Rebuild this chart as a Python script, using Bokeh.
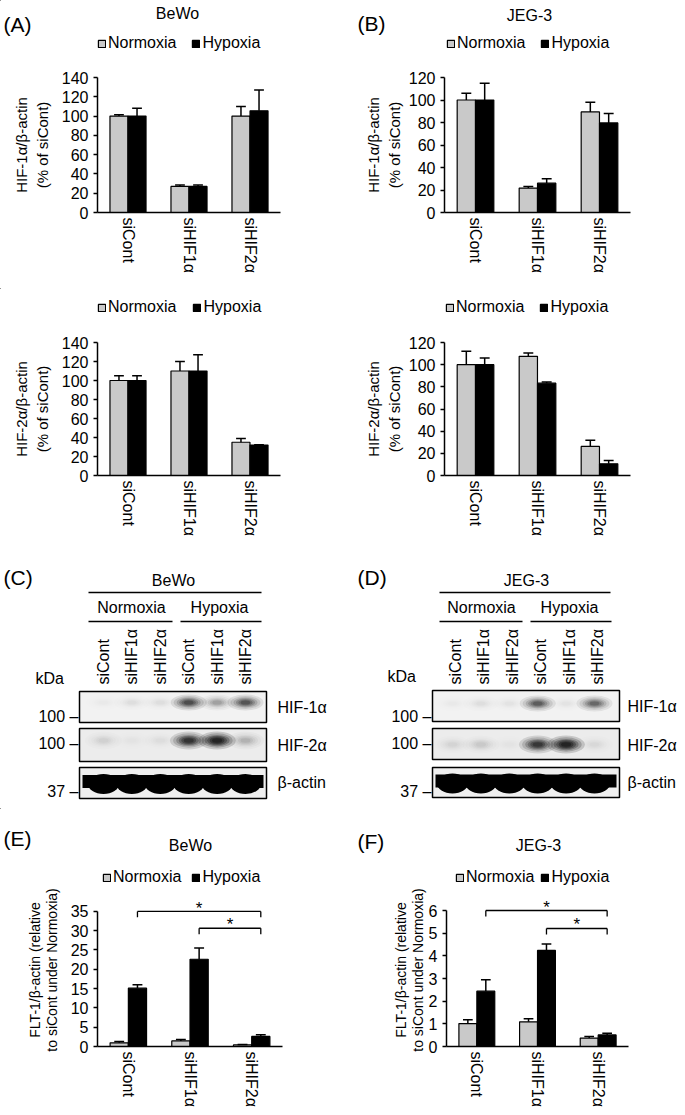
import math
from bokeh.plotting import figure
from bokeh.models import (FactorRange, Range1d, FixedTicker, Legend, LegendItem,
                          ColumnDataSource)
from bokeh.transform import dodge
from bokeh.layouts import column, row
from bokeh.core.properties import value
from bokeh.embed import file_html
from bokeh.resources import INLINE

FONT = "Liberation Sans"
GRAY = "#c9c9c9"

# ---------------- data ----------------
categories = ["siCont", "siHIF1α", "siHIF2α"]
series = ["Normoxia", "Hypoxia"]

# (A) BeWo, HIF-1α/β-actin (% of siCont)
bewo_hif1a_norm = [100, 27, 100]
bewo_hif1a_norm_err = [1.5, 1.5, 10]
bewo_hif1a_hyp = [100, 27, 105.5]
bewo_hif1a_hyp_err = [8, 1.5, 21.5]
# (B) JEG-3, HIF-1α/β-actin
jeg_hif1a_norm = [100, 21.7, 89.4]
jeg_hif1a_norm_err = [6, 1.5, 8.6]
jeg_hif1a_hyp = [100, 26.1, 79.6]
jeg_hif1a_hyp_err = [15, 4, 8.3]
# (A) BeWo, HIF-2α/β-actin
bewo_hif2a_norm = [100, 110, 35]
bewo_hif2a_norm_err = [5, 10, 4]
bewo_hif2a_hyp = [100, 110, 32]
bewo_hif2a_hyp_err = [5, 17, 0.3]
# (B) JEG-3, HIF-2α/β-actin
jeg_hif2a_norm = [100, 107.5, 26.2]
jeg_hif2a_norm_err = [12, 3, 5.5]
jeg_hif2a_hyp = [100, 83.3, 10.5]
jeg_hif2a_hyp_err = [6, 1, 3]
# (E) BeWo, FLT-1/β-actin
bewo_flt1_norm = [0.95, 1.45, 0.4]
bewo_flt1_norm_err = [0.35, 0.35, 0.1]
bewo_flt1_hyp = [15.1, 22.6, 2.6]
bewo_flt1_hyp_err = [0.9, 2.9, 0.45]
# (F) JEG-3, FLT-1/β-actin
jeg_flt1_norm = [1.01, 1.09, 0.37]
jeg_flt1_norm_err = [0.17, 0.13, 0.07]
jeg_flt1_hyp = [2.44, 4.24, 0.51]
jeg_flt1_hyp_err = [0.5, 0.28, 0.08]

yticks_hif_bewo = [0, 20, 40, 60, 80, 100, 120, 140]
yticks_hif_jeg = [0, 20, 40, 60, 80, 100, 120]
yticks_flt1_bewo = [0, 5, 10, 15, 20, 25, 30, 35]
yticks_flt1_jeg = [0, 1, 2, 3, 4, 5, 6]

sig_pairs = [("siCont", "siHIF2α"), ("siHIF1α", "siHIF2α")]
sig_text = "*"

# western blots
blot_lanes = ["siCont", "siHIF1α", "siHIF2α", "siCont", "siHIF1α", "siHIF2α"]
blot_conditions = ["Normoxia", "Hypoxia"]
blot_rows = ["HIF-1α", "HIF-2α", "β-actin"]
blot_markers = ["100 –", "100 –", "37 –"]
bewo_blot_hif1a = [0.02, 0.04, 0.04, 0.6, 0.22, 0.55]
bewo_blot_hif2a = [0.06, 0.02, 0.03, 0.8, 1.0, 0.15]
bewo_blot_actin = [1, 1, 1, 1, 1, 1]
jeg_blot_hif1a = [0.02, 0.04, 0.03, 0.5, 0.03, 0.45]
jeg_blot_hif2a = [0.05, 0.08, 0.02, 0.75, 1.0, 0.04]
jeg_blot_actin = [1, 1, 1, 1, 1, 1]

# ---------------- layout (page pixels) ----------------
COL_X = [0, 343]
COL_W = [343, 342]
PAGE_W = 685

OFF = 0.148
BW = 0.295
CAP = 0.16


def base_fig(width, height, **kw):
    p = figure(width=width, height=height, output_backend="svg",
               toolbar_location=None, title=None, **kw)
    p.outline_line_color = None
    p.background_fill_color = "white"
    p.border_fill_color = "white"
    return p


def txt(p, x, y, t, size="16px", align="center", angle=0.0, baseline="middle"):
    p.text(x=x if isinstance(x, list) else [x], y=y if isinstance(y, list) else [y],
           text=t if isinstance(t, list) else [t], angle=angle,
           text_font=value(FONT), text_font_size=size, text_color="black",
           text_align=align, text_baseline=baseline)


def make_header(top, height, letters, titles, legends):
    p = base_fig(PAGE_W, height, x_range=Range1d(0, PAGE_W),
                 y_range=Range1d(top + height, top), x_axis_type=None,
                 y_axis_type=None, min_border=0)
    for t, x, y in letters:
        txt(p, x, y, t, size="21px", align="left")
    for t, x, y in titles:
        txt(p, x, y, t, size="16px")
    for lx, ly, gap in legends:
        # legend keys: same styles as the bars (their single point lies off-canvas)
        rn = p.vbar(x=[-1000], top=[top], bottom=[top], width=1, fill_color=GRAY,
                    line_color="black", line_width=1.2)
        rh = p.vbar(x=[-1000], top=[top], bottom=[top], width=1, fill_color="black",
                    line_color="black", line_width=1.2)
        leg = Legend(items=[LegendItem(label=series[0], renderers=[rn]),
                            LegendItem(label=series[1], renderers=[rh])],
                     orientation="horizontal",
                     location=(lx, top + height - ly - 10),
                     label_text_font=FONT, label_text_font_size="16px",
                     label_text_color="black", glyph_width=9, glyph_height=9,
                     label_standoff=2, spacing=gap, padding=0, margin=0,
                     label_height=20, border_line_color=None,
                     background_fill_alpha=0)
        p.add_layout(leg)
    return p


def make_bar(col, top, height, frame, ymax, yend, yticks, norm, norm_err, hyp, hyp_err,
             ylabel, lh, lsize="15px", lstand=8, sig=None):
    ox, W = COL_X[col], COL_W[col]
    fx0, fy0, fx1, fy1 = frame

    def dy(py):
        return yend * (fy1 - py) / (fy1 - fy0)

    p = base_fig(W, height, x_range=FactorRange(*categories),
                 y_range=Range1d(0, yend),
                 min_border_left=fx0 - ox, min_border_right=ox + W - fx1,
                 min_border_top=fy0 - top, min_border_bottom=top + height - fy1)
    p.xgrid.visible = False
    p.ygrid.visible = False

    for ax in (p.xaxis[0], p.yaxis[0]):
        ax.axis_line_color = "black"
        ax.axis_line_width = 1.5
        ax.major_label_text_font = FONT
        ax.major_label_text_font_size = "16px"
        ax.major_label_text_color = "black"
        ax.minor_tick_line_color = None
    p.yaxis.bounds = (0, ymax)
    p.yaxis.ticker = FixedTicker(ticks=yticks)
    p.yaxis.major_tick_out = 4
    p.yaxis.major_tick_in = 0
    p.yaxis.major_tick_line_width = 1.5
    p.yaxis.major_tick_line_color = "black"
    p.yaxis.major_label_standoff = 5
    p.yaxis.axis_label = ylabel
    p.yaxis.axis_label_text_font = FONT
    p.yaxis.axis_label_text_font_size = lsize
    p.yaxis.axis_label_text_font_style = "normal"
    p.yaxis.axis_label_text_color = "black"
    p.yaxis.axis_label_text_line_height = lh
    p.yaxis.axis_label_standoff = lstand
    p.xaxis.major_tick_line_color = None
    p.xaxis.major_tick_out = 0
    p.xaxis.major_tick_in = 0
    p.xaxis.major_label_orientation = "vertical"
    p.xaxis.major_label_standoff = 5

    src = ColumnDataSource(dict(
        cat=categories,
        norm=norm, norm_hi=[v + e for v, e in zip(norm, norm_err)],
        hyp=hyp, hyp_hi=[v + e for v, e in zip(hyp, hyp_err)]))
    xr = p.x_range
    p.vbar(x=dodge("cat", -OFF, range=xr), top="norm", bottom=0, width=BW,
           fill_color=GRAY, line_color="black", line_width=1.2, source=src)
    p.vbar(x=dodge("cat", OFF, range=xr), top="hyp", bottom=0, width=BW,
           fill_color="black", line_color="black", line_width=1.2, source=src)
    for off, lo, hi in ((-OFF, "norm", "norm_hi"), (OFF, "hyp", "hyp_hi")):
        p.segment(x0=dodge("cat", off, range=xr), y0=lo,
                  x1=dodge("cat", off, range=xr), y1=hi,
                  line_color="black", line_width=1.5, source=src)
        p.segment(x0=dodge("cat", off - CAP / 2, range=xr), y0=hi,
                  x1=dodge("cat", off + CAP / 2, range=xr), y1=hi,
                  line_color="black", line_width=1.5, source=src)

    if sig:
        bx0, by0, bx1, by1, sx, sy = [], [], [], [], [], []
        for (a, b), (line_py, drop, star_py) in zip(sig_pairs, sig):
            xa = categories.index(a) + 0.5 + OFF
            xb = categories.index(b) + 0.5 + OFF
            y1 = dy(line_py)
            y2 = dy(line_py + drop)
            for (xs0, ys0, xs1, ys1) in ((xa, y1, xb, y1), (xa, y1, xa, y2), (xb, y1, xb, y2)):
                bx0.append(xs0); by0.append(ys0); bx1.append(xs1); by1.append(ys1)
            sx.append((xa + xb) / 2)
            sy.append(dy(star_py))
        p.segment(x0=bx0, y0=by0, x1=bx1, y1=by1, line_color="black", line_width=1.3)
        p.text(x=sx, y=sy, text=[sig_text] * len(sx), text_font=value(FONT),
               text_font_size="17px", text_color="black", text_align="center",
               text_baseline="middle")
    return p


def draw_bands(p, xs, yc, inten, w, h):
    layers = [(1.5, 2.0, 0.12), (1.25, 1.6, 0.15), (1.0, 1.25, 0.2),
              (0.8, 1.0, 0.25), (0.6, 0.75, 0.3), (0.4, 0.5, 0.35)]
    for sw, sh, a in layers:
        p.ellipse(x=xs, y=[yc] * len(xs), width=w * sw, height=h * sh,
                  fill_color="#101010",
                  fill_alpha=[min(1.0, 1.4 * a * v) for v in inten],
                  line_color=None)


def make_blot(col, L, hif1a, hif2a, actin, cell):
    ox, W = COL_X[col], COL_W[col]
    p = base_fig(W, 250, x_range=Range1d(ox, ox + W), y_range=Range1d(808, 558),
                 x_axis_type=None, y_axis_type=None, min_border=0)
    txt(p, L["letter"][1], L["letter"][2], L["letter"][0], size="21px", align="left")
    txt(p, L["cell"][0], L["cell"][1], cell)
    cx0, cx1, cy = L["cell_line"]
    p.segment(x0=[cx0], y0=[cy], x1=[cx1], y1=[cy], line_color="black", line_width=1.3)
    for cond, (tx, ty), (lx0, lx1, lyy) in zip(blot_conditions, L["conds"], L["cond_lines"]):
        txt(p, tx, ty, cond)
        p.segment(x0=[lx0], y0=[lyy], x1=[lx1], y1=[lyy], line_color="black",
                  line_width=1.3)
    first, pitch = L["lane"]
    lane_x = [first + i * pitch for i in range(len(blot_lanes))]
    txt(p, lane_x, [L["lane_y"]] * len(blot_lanes), blot_lanes, align="left",
        angle=math.pi / 2)
    txt(p, L["kda"][0], L["kda"][1], "kDa", align="left")
    bx0, bx1 = L["box_x"]
    for (yt, yb), fc in zip(L["box_y"], ("#f2f2f2", "#ececec", "#efefef")):
        p.quad(left=[bx0], right=[bx1], top=[yt], bottom=[yb], fill_color=fc,
               line_color=None)
    sh = L["band_shift"]
    bxs = [x + sh for x in lane_x]
    draw_bands(p, bxs, L["box_y"][0][0] + L["band_dy"][0], hif1a, 24, 8)
    draw_bands(p, bxs, L["box_y"][1][0] + L["band_dy"][1], hif2a, 25, 9)
    # actin band
    ayt, ayb = L["box_y"][2]
    amid = (ayt + ayb) / 2
    p.quad(left=[bx0 + 3], right=[bx1 - 3], top=[amid - 8], bottom=[amid + 5],
           fill_color="black", line_color=None)
    p.ellipse(x=bxs, y=[amid + 1] * len(bxs), width=31, height=20,
              fill_color="black", fill_alpha=actin, line_color=None)
    for (yt, yb) in L["box_y"]:
        p.quad(left=[bx0], right=[bx1], top=[yt], bottom=[yb], fill_color=None,
               line_color="black", line_width=1.5)
    txt(p, [L["marker_x"]] * 3, L["marker_y"], blot_markers, align="right")
    txt(p, [L["rowlab_x"]] * 3, L["rowlab_y"], blot_rows, align="left")
    return p


# ---------------- panels ----------------
h1 = make_header(0, 60,
                 letters=[("(A)", 3, 24), ("(B)", 357, 23)],
                 titles=[("BeWo", 177, 13), ("JEG-3", 529, 15)],
                 legends=[(97, 43, 15), (446, 43, 15)])
a1 = make_bar(0, 60, 228, (97, 77, 280, 212), 140, 140, yticks_hif_bewo,
              bewo_hif1a_norm, bewo_hif1a_norm_err, bewo_hif1a_hyp, bewo_hif1a_hyp_err,
              "HIF-1α/β-actin\n(% of siCont)", 1.25)
b1 = make_bar(1, 60, 228, (444, 77, 630, 212), 120, 120, yticks_hif_jeg,
              jeg_hif1a_norm, jeg_hif1a_norm_err, jeg_hif1a_hyp, jeg_hif1a_hyp_err,
              "HIF-1α/β-actin\n(% of siCont)", 1.25, lstand=3)

h2 = make_header(288, 37, letters=[], titles=[],
                 legends=[(97, 307, 16), (445, 307, 15)])
a2 = make_bar(0, 325, 233, (97, 341, 280, 475), 140, 140, yticks_hif_bewo,
              bewo_hif2a_norm, bewo_hif2a_norm_err, bewo_hif2a_hyp, bewo_hif2a_hyp_err,
              "HIF-2α/β-actin\n(% of siCont)", 1.25)
b2 = make_bar(1, 325, 233, (444, 342, 630, 475), 120, 120, yticks_hif_jeg,
              jeg_hif2a_norm, jeg_hif2a_norm_err, jeg_hif2a_hyp, jeg_hif2a_hyp_err,
              "HIF-2α/β-actin\n(% of siCont)", 1.25, lstand=3)

LC = dict(letter=("(C)", 3, 577), cell=(173, 580), cell_line=(88, 261, 592),
          conds=[(131, 607), (219, 607)], cond_lines=[(88, 172, 621), (180, 261, 621)],
          lane=(103, 28.4), lane_y=684, kda=(35, 678), box_x=(79, 266),
          box_y=[(691, 722), (728, 761), (767, 798)], band_shift=0, band_dy=(11, 12),
          marker_x=78, marker_y=[716, 743, 791], rowlab_x=277, rowlab_y=[707, 745, 782])
LD = dict(letter=("(D)", 357, 577), cell=(526, 580), cell_line=(439, 610, 592),
          conds=[(481, 607), (569, 607)], cond_lines=[(439, 522, 621), (530, 611, 621)],
          lane=(455, 28.4), lane_y=684, kda=(387, 676), box_x=(432, 619),
          box_y=[(690, 721), (728, 759), (767, 797)], band_shift=-3, band_dy=(13, 16),
          marker_x=431, marker_y=[716, 743, 791], rowlab_x=627, rowlab_y=[706, 745, 782])
c = make_blot(0, LC, bewo_blot_hif1a, bewo_blot_hif2a, bewo_blot_actin, "BeWo")
d = make_blot(1, LD, jeg_blot_hif1a, jeg_blot_hif2a, jeg_blot_actin, "JEG-3")

h4 = make_header(808, 79,
                 letters=[("(E)", 3, 838), ("(F)", 357, 841)],
                 titles=[("BeWo", 190, 845), ("JEG-3", 538, 845)],
                 legends=[(102, 877, 10), (455, 877, 6)])
e = make_bar(0, 887, 228, (97, 893, 282, 1047), 35, 35 * 154 / 136, yticks_flt1_bewo,
             bewo_flt1_norm, bewo_flt1_norm_err, bewo_flt1_hyp, bewo_flt1_hyp_err,
             "FLT-1/β-actin (relative\nto siCont under Normoxia)", 1.05, lsize="14px",
             sig=[(911, 6, 908), (928, 6, 924)])
f = make_bar(1, 887, 228, (446, 893, 628, 1046), 6, 6 * 153 / 136, yticks_flt1_jeg,
             jeg_flt1_norm, jeg_flt1_norm_err, jeg_flt1_hyp, jeg_flt1_hyp_err,
             "FLT-1/β-actin (relative\nto siCont under Normoxia)", 1.05, lsize="14px",
             lstand=0, sig=[(910, 6, 907), (928, 6, 924)])

layout = column(h1, row(a1, b1), h2, row(a2, b2), row(c, d), h4, row(e, f))
open("out.html", "w").write(file_html(layout, INLINE))
